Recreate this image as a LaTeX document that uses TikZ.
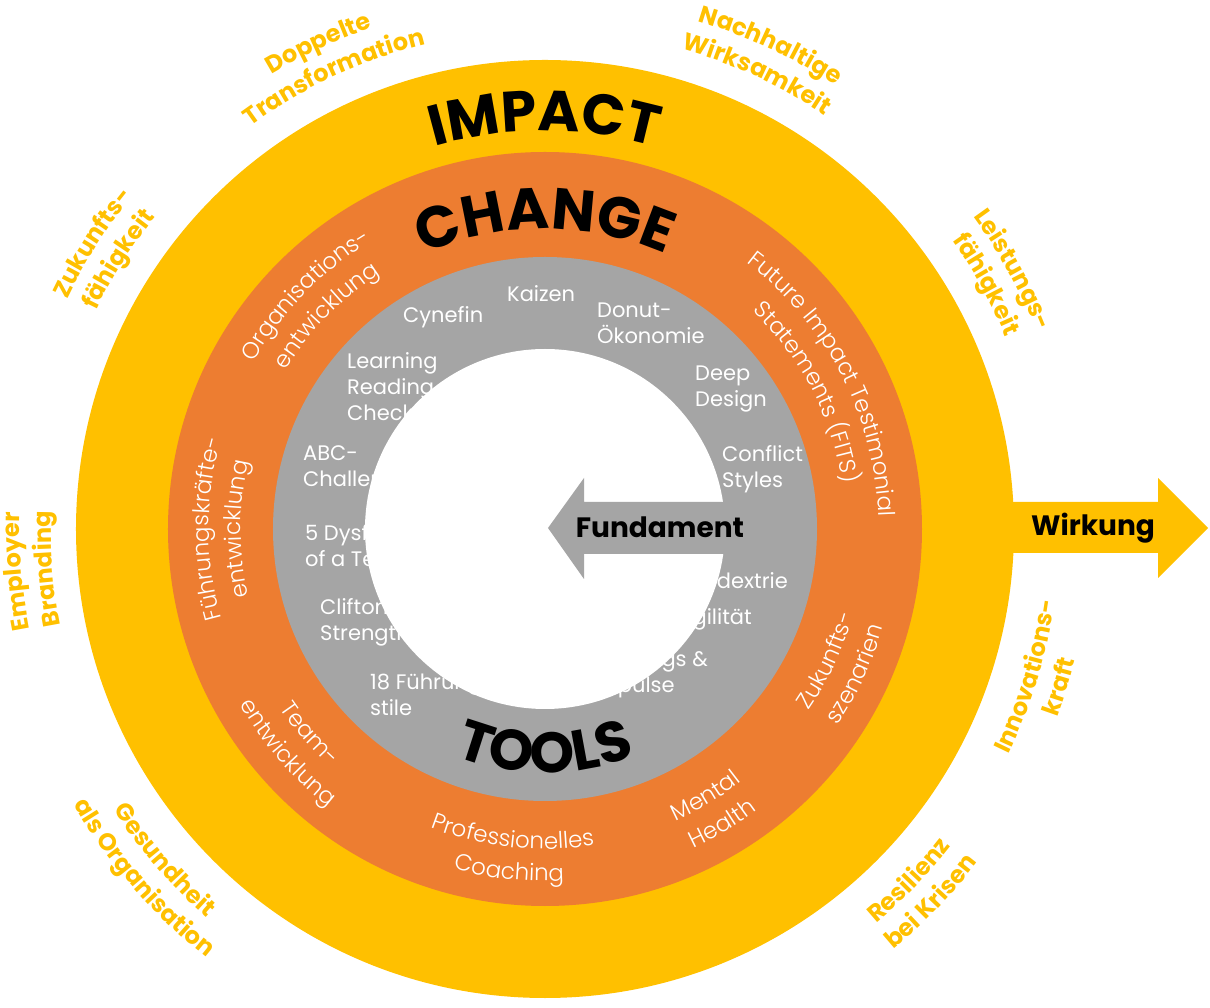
\documentclass[tikz,border=0pt]{standalone}
\usepackage{fontspec}
\setmainfont{Poppins}
\newfontfamily\lightfont{Poppins Light}
\usetikzlibrary{decorations.text}
\definecolor{impactgold}{HTML}{FFC000}
\definecolor{changeorange}{HTML}{ED7D31}
\definecolor{toolgrey}{HTML}{A5A5A5}

\begin{document}
\begin{tikzpicture}[
      x=1pt, y=1pt,
      tool/.style={font=\fontsize{21}{26}\selectfont, text=white, align=left,
      inner sep=0pt},
      fat/.style={font=\bfseries\fontsize{28}{28}\selectfont, text=black,
      inner sep=0pt},
      title/.style 2 args={decorate, decoration={text along path, text align=center,
      text={|\bfseries\fontsize{#1}{#1}\selectfont|#2}}},
      ringlabel/.style={decorate, decoration={text along path, text align=center,
      text color=white, text={|\lightfont\fontsize{23}{23}\selectfont|#1}}},
      outlabel/.style={decorate, decoration={text along path, text align=center,
      text color=impactgold, text={|\bfseries\fontsize{24}{24}\selectfont|#1}}}
    ]
    \useasboundingbox (-545,-479) rectangle (665,529);

    % Rings
    \fill[impactgold] (0,0) circle[radius=469];
    \fill[impactgold] (455,27) -- (613,27) -- (613,51) -- (663,1)
    -- (613,-49) -- (613,-24) -- (455,-24) -- cycle;
    \fill[changeorange] (0,0) circle[radius=377];
    \fill[toolgrey] (0,0) circle[radius=272];

    % Ring titles
    \path[title={57}{IMPACT}] (160:398) arc[start angle=160, end angle=20, radius=398];
    \path[title={58}{CHANGE}] (160:300) arc[start angle=160, end angle=20, radius=300];
    \path[title={57}{TOOLS}] (-160:244) arc[start angle=-160, end angle=-20, radius=244];

    % Tools
    \node[tool, anchor=west] (cynefin) at (-142,212) {Cynefin};
    \node[tool, anchor=west] (kaizen) at (-38,235) {Kaizen};
    \node[tool, anchor=west] (donut) at (52,206) {Donut-\\Ökonomie};
    \node[tool, anchor=west] (learning) at (-198,142) {Learning\\Reading\\Checklist};
    \node[tool, anchor=west] (deep) at (150,140) {Deep\\Design};
    \node[tool, anchor=west] (abc) at (-242,60) {ABC-\\Challenge};
    \node[tool, anchor=west] (conflict) at (177,60) {Conflict\\Styles};
    \node[tool, anchor=west] (dysfunctions) at (-240,-17) {5 Dysfunctions\\of a Team};
    \node[tool, anchor=east] (ambi) at (243,-52) {Ambidextrie};
    \node[tool, anchor=west] (clifton) at (-225,-93) {Clifton\\Strengths};
    \node[tool, anchor=east] (agil) at (207,-90) {Agilität};
    \node[tool, anchor=west] (fuehrung) at (-175,-166) {18 Führungs-\\stile};
    \node[tool, anchor=east] (meetings) at (163,-145) {Meetings \&\\Impulse};

    % Fundament
    \fill[white] (0,0) circle[radius=180];
    \fill[toolgrey] (3,1) -- (39,51) -- (39,27) -- (200,27) -- (200,-25)
    -- (39,-25) -- (39,-50) -- cycle;
    \node[fat] (fundament) at (115,2) {Fundament};
    \node[fat] (wirkung) at (548,1) {Wirkung};

    % Change topics
    \path[ringlabel={Organisations-}] (205.7:336) arc[start angle=205.7, end angle=65.7, radius=336];
    \path[ringlabel={entwicklung}] (205.7:304) arc[start angle=205.7, end angle=65.7, radius=304];
    \path[ringlabel={Führungskräfte-}] (250:336) arc[start angle=250, end angle=110, radius=336];
    \path[ringlabel={entwicklung}] (250:304) arc[start angle=250, end angle=110, radius=304];
    \path[ringlabel={Future Impact Testimonial}] (97.5:334) arc[start angle=97.5, end angle=-42.5, radius=334];
    \path[ringlabel={Statements (FITS)}] (97.5:301) arc[start angle=97.5, end angle=-42.5, radius=301];
    \path[ringlabel={Zukunfts-}] (-95:320) arc[start angle=-95, end angle=45, radius=320];
    \path[ringlabel={szenarien}] (-95:352) arc[start angle=-95, end angle=45, radius=352];
    \path[ringlabel={Team-}] (-209:320) arc[start angle=-209, end angle=-69, radius=320];
    \path[ringlabel={entwicklung}] (-209:352) arc[start angle=-209, end angle=-69, radius=352];
    \path[ringlabel={Professionelles}] (-166:320) arc[start angle=-166, end angle=-26, radius=320];
    \path[ringlabel={Coaching}] (-166:352) arc[start angle=-166, end angle=-26, radius=352];
    \path[ringlabel={Mental}] (-129:320) arc[start angle=-129, end angle=11, radius=320];
    \path[ringlabel={Health}] (-129:352) arc[start angle=-129, end angle=11, radius=352];

    % Impact goals
    \path[outlabel={Doppelte}] (185:530) arc[start angle=185, end angle=45, radius=530];
    \path[outlabel={Transformation}] (185:499) arc[start angle=185, end angle=45, radius=499];
    \path[outlabel={Nachhaltige}] (135:530) arc[start angle=135, end angle=-5, radius=530];
    \path[outlabel={Wirksamkeit}] (135:499) arc[start angle=135, end angle=-5, radius=499];
    \path[outlabel={Zukunfts-}] (217.7:530) arc[start angle=217.7, end angle=77.7, radius=530];
    \path[outlabel={fähigkeit}] (217.7:499) arc[start angle=217.7, end angle=77.7, radius=499];
    \path[outlabel={Leistungs-}] (99:530) arc[start angle=99, end angle=-41, radius=530];
    \path[outlabel={fähigkeit}] (99:499) arc[start angle=99, end angle=-41, radius=499];
    \path[outlabel={Employer}] (254.6:525) arc[start angle=254.6, end angle=114.6, radius=525];
    \path[outlabel={Branding}] (254.6:494) arc[start angle=254.6, end angle=114.6, radius=494];
    \path[outlabel={Innovations-}] (-87:515) arc[start angle=-87, end angle=53, radius=515];
    \path[outlabel={kraft}] (-87:546) arc[start angle=-87, end angle=53, radius=546];
    \path[outlabel={Resilienz}] (-114:515) arc[start angle=-114, end angle=26, radius=515];
    \path[outlabel={bei Krisen}] (-114:546) arc[start angle=-114, end angle=26, radius=546];
    \path[outlabel={Gesundheit}] (-209:515) arc[start angle=-209, end angle=-69, radius=515];
    \path[outlabel={als Organisation}] (-209:546) arc[start angle=-209, end angle=-69, radius=546];

  \end{tikzpicture}
\end{document}
